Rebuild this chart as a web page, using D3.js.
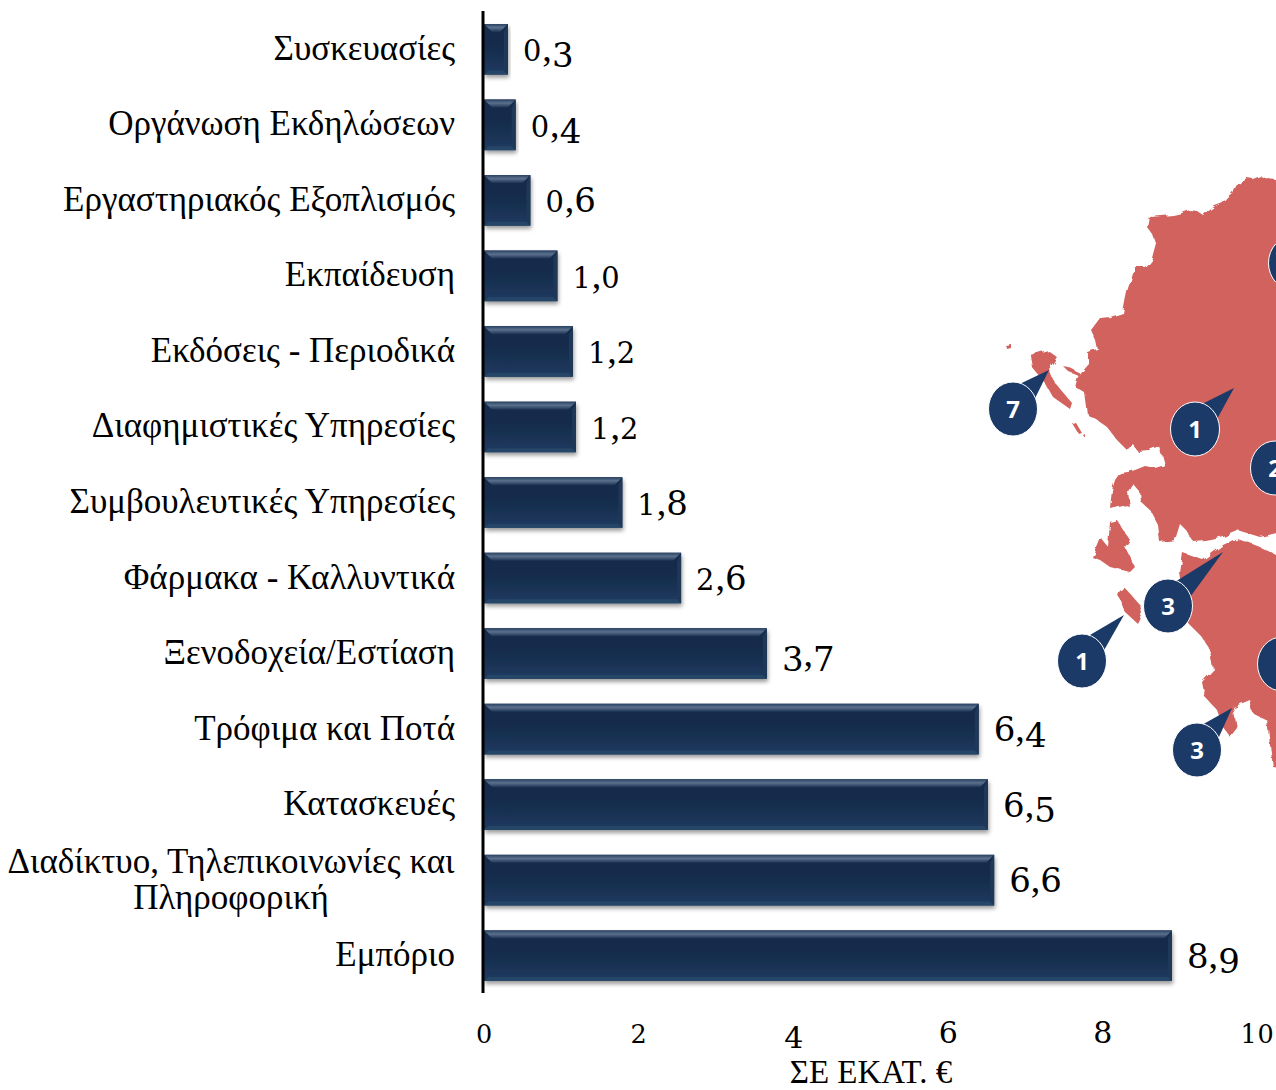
<!DOCTYPE html>
<html>
<head>
<meta charset="utf-8">
<script src="https://d3js.org/d3.v7.min.js"></script>
<style>
    body { margin: 0; background: #fff; }
    svg { display: block; }
    text { font-family: "Liberation Serif", serif; fill: #000; }
</style>
</head>
<body>
<div id="chart"></div>
<script>
// chart values, top bar first
const categories = [
    "Συσκευασίες", "Οργάνωση Εκδηλώσεων", "Εργαστηριακός Εξοπλισμός", "Εκπαίδευση",
    "Εκδόσεις - Περιοδικά", "Διαφημιστικές Υπηρεσίες", "Συμβουλευτικές Υπηρεσίες",
    "Φάρμακα - Καλλυντικά", "Ξενοδοχεία/Εστίαση", "Τρόφιμα και Ποτά", "Κατασκευές",
    "Διαδίκτυο, Τηλεπικοινωνίες και|Πληροφορική", "Εμπόριο"
];
const values = [0.31, 0.41, 0.6, 0.95, 1.15, 1.19, 1.79, 2.55, 3.66, 6.4, 6.52, 6.6, 8.9];
const valueLabels = ["0,3", "0,4", "0,6", "1,0", "1,2", "1,2", "1,8", "2,6", "3,7", "6,4", "6,5", "6,6", "8,9"];
const xTicks = [0, 2, 4, 6, 8, 10];
const xTitle = "ΣΕ ΕΚΑΤ. €";

// map callouts: the number, then the circle centre and where the pointer ends
const calloutNumbers = ["7", "1", "", "2", "3", "1", "", "3"];
const calloutCentres = [[1013, 409], [1195, 429], [1293, 263], [1275, 468], [1168, 606], [1082, 661], [1282, 664], [1197, 750]];
const calloutTips = [[1049, 370], [1234, 388], null, null, [1223, 552], [1124, 615], null, [1232, 708]];

// map outline
const mapShapes = [
    // mainland
    [[1290, 182], [1268, 179], [1260, 176], [1253, 179], [1247, 178], [1240, 181], [1235, 185], [1232, 193], [1226, 198], [1223, 203], [1215, 206], [1210, 210], [1203, 215], [1197, 211], [1190, 210], [1182, 213], [1173, 215], [1150, 217], [1148, 228], [1153, 235], [1156, 243], [1152, 258], [1145, 267], [1135, 267], [1132, 277], [1128, 288], [1126, 297], [1123, 313], [1110, 317], [1100, 318], [1091, 330], [1096, 341], [1098, 350], [1088, 353], [1088, 363], [1081, 371], [1078, 377], [1075, 387], [1085, 393], [1088, 415], [1097, 420], [1107, 427], [1117, 440], [1127, 450], [1133, 444], [1138, 452], [1150, 451], [1160, 447], [1165, 465], [1155, 468], [1145, 466], [1135, 470], [1128, 472], [1120, 473], [1115, 480], [1112, 490], [1110, 508], [1122, 505], [1130, 507], [1128, 492], [1132, 483], [1140, 492], [1141, 502], [1150, 510], [1158, 525], [1160, 542], [1175, 540], [1180, 524], [1186, 530], [1193, 541], [1205, 540], [1220, 537], [1237, 530], [1260, 537], [1290, 530]],
    // Peloponnese
    [[1290, 562], [1260, 547], [1237, 538], [1223, 545], [1203, 560], [1183, 553], [1180, 573], [1188, 623], [1200, 635], [1210, 650], [1213, 670], [1202, 682], [1205, 697], [1217, 710], [1223, 727], [1230, 737], [1237, 728], [1233, 707], [1250, 700], [1253, 713], [1267, 720], [1270, 745], [1273, 767], [1290, 769]],
    // Corfu
    [[1030, 355], [1048, 350], [1058, 358], [1050, 370], [1055, 383], [1072, 403], [1070, 409], [1053, 397], [1045, 383], [1032, 367]],
    [[1005, 345], [1011, 344], [1011, 348], [1007, 349]],
    [[1063, 366], [1068, 367], [1080, 373], [1079, 376], [1069, 372]],
    [[1073, 424], [1076, 423], [1082, 433], [1079, 434]],
    [[1083, 435], [1085, 434], [1085, 438]],
    // Lefkada and Kefalonia
    [[1092, 557], [1100, 537], [1108, 547], [1110, 522], [1117, 520], [1130, 540], [1125, 547], [1135, 567], [1130, 572], [1110, 567], [1100, 560]],
    // Zakynthos
    [[1118, 595], [1125, 588], [1140, 605], [1142, 613], [1137, 623], [1125, 612]]
];

const width = 1276, height = 1090;

var svg = d3.select("#chart")
    .append("svg")
    .attr("width", width)
    .attr("height", height);

var defs = svg.append("defs");

function addGradient(id, stops) {
    var g = defs.append("linearGradient")
        .attr("id", id)
        .attr("x1", 0).attr("y1", 0)
        .attr("x2", 0).attr("y2", 1);
    stops.forEach(s => g.append("stop").attr("offset", s[0]).attr("stop-color", s[1]));
}
addGradient("barBody", [[0, "#16294a"], [0.5, "#182d4d"], [1, "#1c3a60"]]);
addGradient("bevelTop", [[0, "#2a4263"], [0.45, "#5a708c"], [1, "#1d3354"]]);

var shadow = defs.append("filter")
    .attr("id", "barShadow")
    .attr("x", "-10%").attr("y", "-10%")
    .attr("width", "120%").attr("height", "130%");
shadow.append("feDropShadow")
    .attr("dx", 1).attr("dy", 3)
    .attr("stdDeviation", 2)
    .attr("flood-color", "#000")
    .attr("flood-opacity", 0.4);

// rough up the traced coast a little
var rough = defs.append("filter")
    .attr("id", "rough")
    .attr("x", "-5%").attr("y", "-5%")
    .attr("width", "110%").attr("height", "110%");
rough.append("feTurbulence")
    .attr("type", "fractalNoise")
    .attr("baseFrequency", 0.09)
    .attr("numOctaves", 2)
    .attr("seed", 3)
    .attr("result", "noise");
rough.append("feDisplacementMap")
    .attr("in", "SourceGraphic")
    .attr("in2", "noise")
    .attr("scale", 6);

// digits of the original face are old style: 0 1 2 small, 3 4 5 7 9 hang below the line
function oldStyle(sel, str, size) {
    sel.text(null);
    let drop = 0;
    str.split("").forEach(ch => {
        const small = "012".includes(ch);
        const hang = "34579".includes(ch);
        const shift = hang ? size * 0.17 : 0;
        const t = sel.append("tspan")
            .attr("dy", shift - drop)
            .text(ch);
        if (ch === ",") {
            t.style("font-size", (size * 1.12) + "px");
        } else {
            t.style("font-family", "'DejaVu Serif', serif")
                .style("font-size", (small ? size * 0.85 : size) + "px")
                .style("letter-spacing", small ? (size * 0.03) + "px" : null);
        }
        drop = shift;
    });
}

// Map goes in first so the callouts sit over it
var line = d3.line();
svg.append("g")
    .attr("filter", "url(#rough)")
    .selectAll("path")
    .data(mapShapes)
    .enter()
    .append("path")
    .attr("d", d => line(d) + "Z")
    .attr("fill", "#d2625d");

var callouts = svg.append("g")
    .selectAll("g")
    .data(calloutNumbers)
    .enter()
    .append("g")
    .attr("transform", (d, i) => "translate(" + calloutCentres[i] + ")");

// pointer is a wedge from the circle edge out to the tip
callouts.each(function (d, i) {
    const g = d3.select(this);
    const tip = calloutTips[i];
    if (tip) {
        const dx = tip[0] - calloutCentres[i][0], dy = tip[1] - calloutCentres[i][1];
        const a = Math.atan2(dy, dx), spread = 0.42;
        g.append("path")
            .attr("fill", "#1b3a68")
            .attr("d", line([
                [24 * Math.cos(a - spread), 27 * Math.sin(a - spread)],
                [dx, dy],
                [24 * Math.cos(a + spread), 27 * Math.sin(a + spread)]
            ]) + "Z");
    }
    g.append("ellipse")
        .attr("rx", 24.5).attr("ry", 27)
        .attr("fill", "#1b3a68")
        .attr("stroke", "#fff")
        .attr("stroke-width", 1);
    g.append("text")
        .attr("y", 9)
        .attr("text-anchor", "middle")
        .style("font-family", "'Open Sans', sans-serif")
        .style("font-weight", 700)
        .style("font-size", "24px")
        .style("fill", "#fff")
        .text(d);
});

// Add X axis
var x = d3.scaleLinear()
    .domain([0, 10])
    .range([484, 1257]);
var xAxis = svg.append("g")
    .attr("transform", "translate(0,1043)")
    .call(d3.axisBottom(x).tickValues(xTicks).tickSize(0).tickPadding(0));
xAxis.select(".domain").remove();
xAxis.selectAll("text")
    .attr("dy", 0)
    .attr("y", 0)
    .each(function (d) { oldStyle(d3.select(this), String(d), 30); });

// X axis title
svg.append("text")
    .attr("x", 871)
    .attr("y", 1083)
    .style("text-anchor", "middle")
    .style("font-size", "33px")
    .text(xTitle);

// Bars
var y = d3.scaleBand()
    .domain(categories)
    .range([24, 981])
    .paddingInner(0.33)
    .paddingOuter(0);

var bars = svg.append("g")
    .selectAll("g")
    .data(categories)
    .enter()
    .append("g")
    .attr("transform", d => "translate(" + x(0) + "," + y(d) + ")");

const bh = y.bandwidth(), bevelT = 8, bevelS = 4;

bars.append("rect")
    .attr("width", (d, i) => x(values[i]) - x(0))
    .attr("height", bh)
    .attr("fill", "url(#barBody)")
    .attr("filter", "url(#barShadow)");

// right bevel
bars.append("path")
    .attr("fill", "#1f3858")
    .attr("d", (d, i) => {
        const w = x(values[i]) - x(0);
        return line([[w, 0], [w, bh], [w - bevelS, bh - bevelS], [w - bevelS, bevelT]]) + "Z";
    });
// bottom bevel
bars.append("path")
    .attr("fill", "#264668")
    .attr("d", (d, i) => {
        const w = x(values[i]) - x(0);
        return line([[0, bh], [w, bh], [w - bevelS, bh - bevelS], [bevelS, bh - bevelS]]) + "Z";
    });
// top bevel, mitred in from the corners
bars.append("path")
    .attr("fill", "url(#bevelTop)")
    .attr("d", (d, i) => {
        const w = x(values[i]) - x(0);
        return line([[0, 0], [w, 0], [w - bevelT, bevelT], [bevelT, bevelT]]) + "Z";
    });

// value labels
svg.append("g")
    .selectAll("text")
    .data(categories)
    .enter()
    .append("text")
    .attr("x", (d, i) => x(values[i]) + 15)
    .attr("y", d => y(d) + y.bandwidth() / 2 + 12)
    .each(function (d, i) { oldStyle(d3.select(this), valueLabels[i], 34); });

// category labels, the | marks a line break
var labels = svg.append("g")
    .selectAll("text")
    .data(categories)
    .enter()
    .append("text")
    .attr("y", d => y(d) + y.bandwidth() / 2 + 10.5)
    .style("font-size", "35px");

labels.each(function (d) {
    const parts = d.split("|");
    const t = d3.select(this);
    if (parts.length === 1) {
        t.attr("x", 455).attr("text-anchor", "end").text(d);
    } else {
        t.attr("x", 231).attr("text-anchor", "middle");
        parts.forEach((p, j) => {
            t.append("tspan")
                .attr("x", 231)
                .attr("y", y(d) + y.bandwidth() / 2 + 10.5 + (j === 0 ? -17.5 : 18))
                .text(p);
        });
    }
});

// Y axis line
svg.append("line")
    .attr("x1", 483).attr("x2", 483)
    .attr("y1", 11).attr("y2", 993)
    .attr("stroke", "#000")
    .attr("stroke-width", 3);
</script>
</body>
</html>
